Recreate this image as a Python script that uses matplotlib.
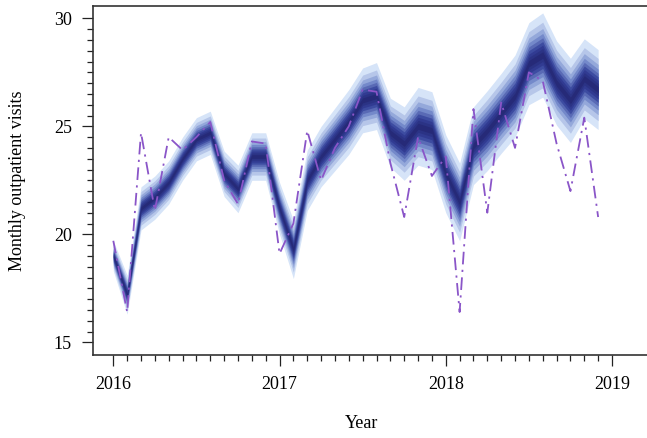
import numpy as np
import matplotlib
matplotlib.use("Agg")
import matplotlib.pyplot as plt
from matplotlib.colors import LinearSegmentedColormap
from matplotlib.ticker import FixedLocator

# Monthly time axis (2016-01 .. 2018-12)
months = np.arange(2016, 2019, 1/12)[:36]

# Central (median) fitted values of the fan
center = [19.0, 17.2, 21.2, 21.7, 22.4, 23.5, 24.4, 24.7, 22.8, 22.1, 23.6, 23.6,
          21.2, 19.3, 22.5, 23.6, 24.4, 25.2, 26.2, 26.4, 24.7, 24.2, 25.0, 24.8,
          22.8, 21.5, 24.1, 24.8, 25.6, 26.4, 27.9, 28.3, 27.0, 26.2, 27.2, 26.7]

# Half-width of the outermost band of the fan
halfwidth = [0.7, 0.9, 1.0, 1.0, 1.0, 1.0, 1.0, 1.0, 1.05, 1.1, 1.1, 1.1,
             1.2, 1.35, 1.4, 1.4, 1.45, 1.5, 1.5, 1.55, 1.6, 1.7, 1.8, 1.8,
             1.8, 1.8, 1.8, 1.85, 1.85, 1.9, 1.9, 1.95, 1.95, 1.95, 1.85, 1.85]

# Observed monthly outpatient visits
actual = [19.7, 16.4, 24.7, 21.1, 24.5, 23.9, 24.5, 25.2, 22.5, 21.4, 24.3, 24.2,
          19.1, 20.5, 24.8, 22.5, 24.0, 25.0, 26.7, 26.6, 23.3, 20.8, 24.5, 22.7,
          23.6, 16.4, 25.8, 21.0, 26.1, 24.0, 27.5, 27.1, 24.2, 22.0, 25.4, 20.8]

year_ticks = [2016, 2017, 2018, 2019]
y_ticks = [15, 20, 25, 30]

# relative widths of the fan bands (central intervals 10%..90%)
band_frac = [0.077, 0.154, 0.234, 0.319, 0.41, 0.512, 0.63, 0.78, 1.0]

plt.rcParams['font.family'] = ['Liberation Serif', 'DejaVu Serif']

fig = plt.figure(figsize=(6.47, 4.38), dpi=100)
ax = fig.add_axes([92.7/647, 1-355/438, 1-92.7/647, (355-5.7)/438])

c = np.array(center)
h = np.array(halfwidth)
nb = len(band_frac)
cmap = LinearSegmentedColormap.from_list("fan", ["#262a78", "#34419a", "#7d93d0", "#d6e4f8"])
for k in range(nb - 1, -1, -1):
    col = cmap(k / (nb - 1))
    ax.fill_between(months, c - h*band_frac[k], c + h*band_frac[k], color=col, linewidth=0)

ax.plot(months, actual, color="#8a55c8", lw=1.3, linestyle=(0, (7, 3, 1.2, 3)))

ax.set_xlim(2016 - 20.6/166.2, 2019 + 35/166.2)
ax.set_ylim(30 - (355-18.3)/21.6, 30 + 12.6/21.6)

ax.xaxis.set_major_locator(FixedLocator(year_ticks))
ax.xaxis.set_minor_locator(FixedLocator([2016 + i/12 for i in range(37)]))
ax.yaxis.set_major_locator(FixedLocator(y_ticks))
ax.yaxis.set_minor_locator(FixedLocator([15 + 0.5*i for i in range(31)]))
ax.set_xticklabels([str(y) for y in year_ticks])
ax.set_yticklabels([str(y) for y in y_ticks])

ax.tick_params(which='major', direction='out', length=8, width=0.9, labelsize=13, pad=7, color='#222222')
ax.tick_params(which='minor', direction='out', length=4, width=0.9, color='#222222')
ax.spines['right'].set_visible(False)
for s in ['left', 'top', 'bottom']:
    ax.spines[s].set_linewidth(1.2)
    ax.spines[s].set_color('#333333')

ax.set_xlabel("Year", fontsize=13)
ax.xaxis.set_label_coords((362-92.7)/(647-92.7), -(423-355)/(355-5.7), transform=ax.transAxes)
ax.set_ylabel("Monthly outpatient visits", fontsize=13)
ax.yaxis.set_label_coords(-(92.7-18)/(647-92.7), 0.5, transform=ax.transAxes)
ax.xaxis.label.set_va('center')
ax.yaxis.label.set_va('center')

fig.savefig("out.png", dpi=100)
